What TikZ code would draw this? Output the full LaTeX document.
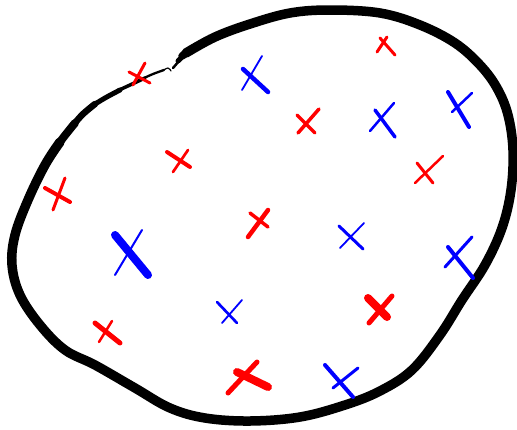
\documentclass[tikz,border=0pt]{standalone}
\usepackage{tikz}

\begin{document}
\begin{tikzpicture}[x=1pt, y=-1pt, line cap=round, line join=round,
  redx/.style={draw=red},
  bluex/.style={draw=blue}]
  \useasboundingbox (0,0) rectangle (517,429);

  % Outline of the region
  \draw[line width=9.5pt] plot[smooth, tension=0.6] coordinates {
    (186,53) (215,37) (250,24) (290,13) (330,10) (380,13) (420,25) (455,43)
    (480,65) (497,88) (508,115) (513,150) (511,190) (502,228) (485,265)
    (462,300) (440,335) (412,370) (380,391) (345,405) (300,417)
    (250,421) (205,418) (170,408) (135,388) (95,365) (65,350) (40,325)
    (20,295) (12,265) (15,235) (28,200) (45,165) (60,142)};
  % Thinner tail at the top left
  \draw[line width=8pt] plot[smooth, tension=0.6] coordinates {
    (45,165) (60,142) (75,123)};
  \draw[line width=6.5pt] plot[smooth, tension=0.6] coordinates {
    (70,129) (82,115) (95,104)};
  \draw[line width=5pt] plot[smooth, tension=0.6] coordinates {
    (92,106) (105,98) (120,90)};
  \draw[line width=3.5pt] plot[smooth, tension=0.6] coordinates {
    (117,91) (130,85) (145,78)};
  \draw[line width=2.3pt] plot[smooth, tension=0.6] coordinates {
    (142,79) (153,74) (164,70)};
  \draw[line width=1.2pt] plot[smooth, tension=0.6] coordinates {
    (162,71) (168,68) (171,71)};
  \draw[line width=2.5pt] (173,68) -- (179,61);
  \draw[line width=5pt] (178,61) -- (183,56);
  \draw[line width=7.5pt] (182,56) -- (188,52);

  % Red crosses
  \draw[redx, line width=3pt] (129,72) -- (150,83);
  \draw[redx, line width=3pt] (145,63) -- (133,85);
  \draw[redx, line width=3pt] (377,52) -- (387,37);
  \draw[redx, line width=3pt] (380,38) -- (395,55);
  \draw[redx, line width=3.5pt] (298,133) -- (319,109);
  \draw[redx, line width=3.5pt] (297,115) -- (315,133);
  \draw[redx, line width=2.5pt] (415,183) -- (443,156);
  \draw[redx, line width=3pt] (417,163) -- (433,183);
  \draw[redx, line width=4pt] (167,152) -- (190,167);
  \draw[redx, line width=2.7pt] (188,150) -- (173,172);
  \draw[redx, line width=4pt] (45,188) -- (70,202);
  \draw[redx, line width=3pt] (65,178) -- (53,210);
  \draw[redx, line width=4.5pt] (248,237) -- (268,210);
  \draw[redx, line width=3.5pt] (250,213) -- (268,227);
  \draw[redx, line width=5pt] (95,323) -- (120,343);
  \draw[redx, line width=2.5pt] (112,321) -- (99,342);
  \draw[redx, line width=8pt] (237,372) -- (268,387);
  \draw[redx, line width=5pt] (257,362) -- (228,393);
  \draw[redx, line width=8pt] (368,298) -- (387,317);
  \draw[redx, line width=5pt] (392,296) -- (369,323);

  % Blue crosses
  \draw[bluex, line width=4.5pt] (243,69) -- (268,92);
  \draw[bluex, line width=1.8pt] (262,56) -- (242,90);
  \draw[bluex, line width=2.5pt] (370,131) -- (394,103);
  \draw[bluex, line width=3.5pt] (375,110) -- (395,137);
  \draw[bluex, line width=4pt] (448,92) -- (469,127);
  \draw[bluex, line width=2.5pt] (452,112) -- (472,93);
  \draw[bluex, line width=8pt] (115,235) -- (148,275);
  \draw[bluex, line width=2pt] (142,230) -- (115,275);
  \draw[bluex, line width=3pt] (339,226) -- (363,249);
  \draw[bluex, line width=1.8pt] (340,248) -- (364,223);
  \draw[bluex, line width=4pt] (448,247) -- (473,278);
  \draw[bluex, line width=3pt] (445,267) -- (472,237);
  \draw[bluex, line width=2.7pt] (217,302) -- (237,323);
  \draw[bluex, line width=1.8pt] (222,323) -- (242,300);
  \draw[bluex, line width=4pt] (325,365) -- (353,397);
  \draw[bluex, line width=3pt] (333,388) -- (358,368);
\end{tikzpicture}
\end{document}
